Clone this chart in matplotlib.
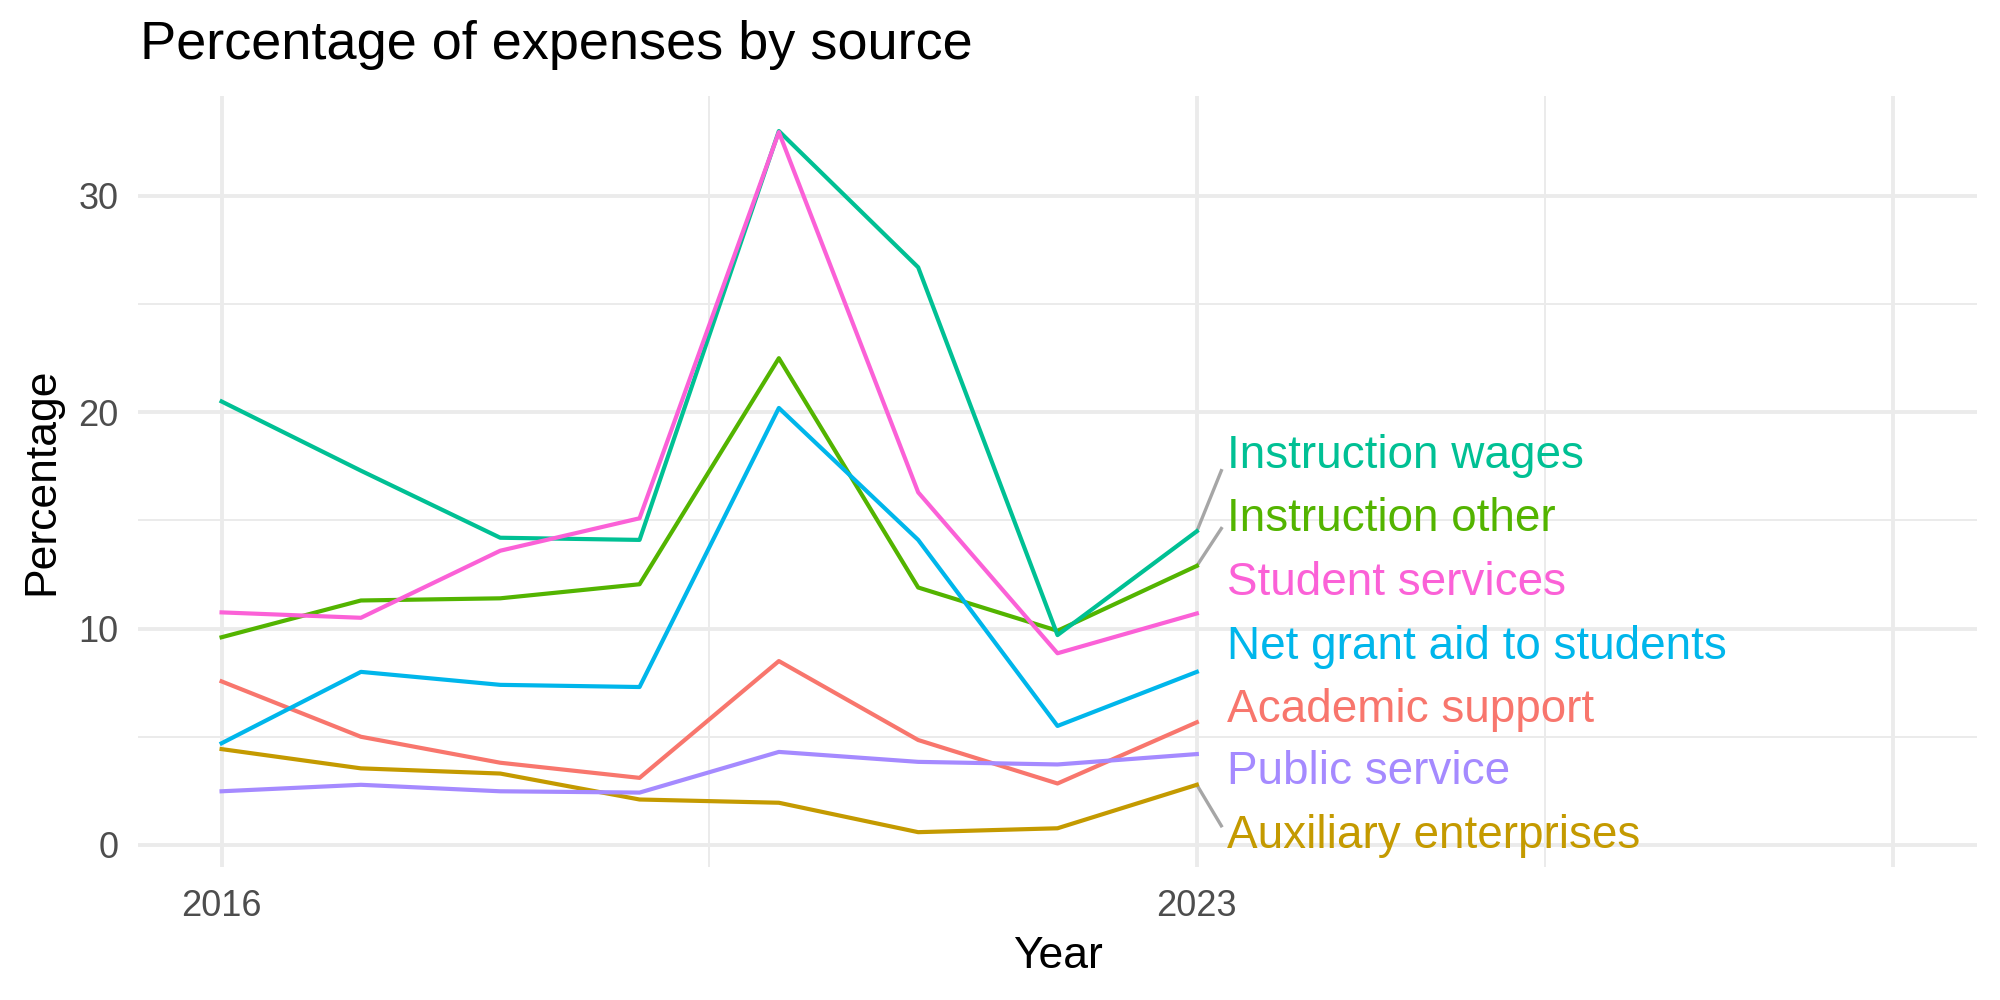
import matplotlib.pyplot as plt

plt.rcParams['font.family'] = ['Liberation Sans', 'DejaVu Sans']

years = [2016, 2017, 2018, 2019, 2020, 2021, 2022, 2023]

academic_support = [7.56, 5.0, 3.8, 3.1, 8.5, 4.85, 2.84, 5.67]
auxiliary_enterprises = [4.43, 3.54, 3.3, 2.1, 1.95, 0.59, 0.77, 2.78]
instruction_other = [9.6, 11.3, 11.4, 12.05, 22.5, 11.9, 9.9, 12.9]
instruction_wages = [20.5, 17.3, 14.2, 14.1, 33.0, 26.7, 9.7, 14.5]
net_grant_aid = [4.7, 8.0, 7.4, 7.3, 20.2, 14.1, 5.5, 8.0]
public_service = [2.48, 2.78, 2.48, 2.42, 4.3, 3.84, 3.72, 4.2]
student_services = [10.75, 10.5, 13.6, 15.1, 32.95, 16.3, 8.86, 10.7]

series_names = ['Academic support', 'Auxiliary enterprises', 'Instruction other',
                'Instruction wages', 'Net grant aid to students', 'Public service',
                'Student services']
series_values = [academic_support, auxiliary_enterprises, instruction_other,
                 instruction_wages, net_grant_aid, public_service, student_services]
colors = ['#F8766D', '#C49A00', '#53B400', '#00C094', '#00B6EB', '#A58AFF', '#FB61D7']

# repelled label heights (data units) at the right end
label_y = [6.26, 0.41, 15.06, 18.0, 9.16, 3.37, 12.1]
label_x = 2023.22

x_major = [2016, 2023, 2028]
x_minor = [2019.5, 2025.5]
y_major = [0, 10, 20, 30]
y_minor = [5, 15, 25]

fig = plt.figure(figsize=(10, 5), dpi=200)
ax = fig.add_axes([0.069, 0.133, 0.9195, 0.771])

grid_col = '#EBEBEB'
for v in x_major:
    ax.axvline(v, color=grid_col, lw=1.4, zorder=0)
for v in x_minor:
    ax.axvline(v, color=grid_col, lw=0.7, zorder=0)
for v in y_major:
    ax.axhline(v, color=grid_col, lw=1.4, zorder=0)
for v in y_minor:
    ax.axhline(v, color=grid_col, lw=0.7, zorder=0)

for name, vals, col, ly in zip(series_names, series_values, colors, label_y):
    ax.plot(years, vals, color=col, lw=1.5, zorder=3)
    end = vals[-1]
    if abs(ly - end) > 2:
        t = 0.8
        ax.plot([years[-1], years[-1] + t * (label_x - years[-1])],
                [end, end + t * (ly - end)], color='#A6A6A6', lw=1.2, zorder=2)
    ax.text(label_x, ly, name, color=col, fontsize=16.5, ha='left', va='center', zorder=4)

ax.set_xlim(2015.4, 2028.6)
ax.set_ylim(-1.02, 34.62)
ax.set_xticks([2016, 2023])
ax.set_xticklabels(['2016', '2023'])
ax.set_yticks(y_major)
ax.tick_params(length=0, labelsize=13, labelcolor='#4D4D4D')
ax.tick_params(axis='x', pad=8)
ax.tick_params(axis='y', pad=7)
for s in ax.spines.values():
    s.set_visible(False)

ax.set_xlabel('Year', fontsize=16)
ax.set_ylabel('Percentage', fontsize=16)
ax.xaxis.set_label_coords(0.5, -0.09)
ax.yaxis.set_label_coords(-0.041, 0.5)
fig.text(0.07, 0.955, 'Percentage of expenses by source', fontsize=19.5, ha='left', va='center')

fig.savefig('out.png', dpi=200, facecolor='white')
